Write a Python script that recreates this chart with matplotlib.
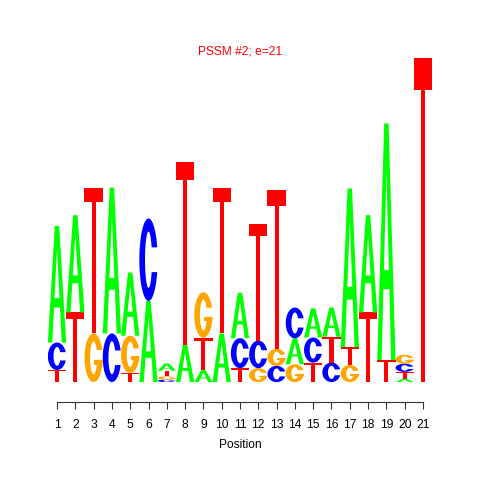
import matplotlib
matplotlib.use('Agg')
import numpy as np
import matplotlib.pyplot as plt
from matplotlib.path import Path
from matplotlib.patches import PathPatch

# ---- data (letter heights in bits per position) ----
positions = list(range(1, 22))
A = [0.72, 0.60, 0.00, 0.90, 0.39, 0.50, 0.045, 0.23, 0.074, 0.30, 0.28,
     0.00, 0.00, 0.16, 0.18, 0.18, 0.98, 0.60, 1.46, 0.020, 0.00]
C = [0.17, 0.00, 0.00, 0.30, 0.00, 0.51, 0.015, 0.00, 0.00, 0.00, 0.185,
     0.17, 0.10, 0.19, 0.155, 0.12, 0.00, 0.00, 0.00, 0.050, 0.00]
G = [0.00, 0.00, 0.30, 0.00, 0.23, 0.00, 0.020, 0.00, 0.28, 0.00, 0.00,
     0.086, 0.105, 0.11, 0.00, 0.00, 0.105, 0.00, 0.00, 0.055, 0.00]
T = [0.074, 0.43, 0.90, 0.00, 0.056, 0.00, 0.035, 1.13, 0.20, 0.90, 0.086,
     0.72, 0.98, 0.00, 0.12, 0.16, 0.11, 0.43, 0.136, 0.043, 2.00]
title = "PSSM #2; e=21"
xlabel = "Position"

colors = {'A': '#00FF00', 'C': '#0000FF', 'G': '#FFA500', 'T': '#FF0000'}


# ---- glyph outlines in a unit box (x 0..1, y 0..1) ----
def c_shape(ylo, yhi, rxi=0.19, ryi=0.34, n=120):
    t0 = np.arcsin((yhi - 0.5) / 0.5)
    t1 = 2 * np.pi + np.arcsin((ylo - 0.5) / 0.5)
    t = np.linspace(t0, t1, n)
    outer = np.c_[0.5 + 0.5 * np.cos(t), 0.5 + 0.5 * np.sin(t)]
    s0 = np.arcsin(np.clip((yhi - 0.5) / ryi, -1, 1))
    s1 = 2 * np.pi + np.arcsin(np.clip((ylo - 0.5) / ryi, -1, 1))
    s = np.linspace(s1, s0, n)
    inner = np.c_[0.5 + rxi * np.cos(s), 0.5 + ryi * np.sin(s)]
    return [np.vstack([outer, inner])]


def glyph_polys(ch):
    if ch == 'T':
        return [np.array([[0, 1], [1, 1], [1, 0.9], [0.61, 0.9], [0.61, 0],
                          [0.39, 0], [0.39, 0.9], [0, 0.9]])]
    if ch == 'A':
        k = 0.325
        outer = np.array([[0, 0], [0.38, 1], [0.62, 1], [1, 0], [0.76, 0],
                          [0.76 - k * 0.30, 0.30], [0.24 + k * 0.30, 0.30],
                          [0.24, 0]])
        hole = np.array([[0.24 + k * 0.38, 0.38], [0.76 - k * 0.38, 0.38],
                         [0.5, 0.80]])
        return [outer, hole]
    if ch == 'C':
        return c_shape(0.35, 0.65)
    if ch == 'G':
        bar = np.array([[0.52, 0.36], [0.98, 0.36], [0.98, 0.46],
                        [0.52, 0.46]])
        return c_shape(0.46, 0.66) + [bar]


def draw_letter(ax, ch, x, y, w, h, color):
    polys = glyph_polys(ch)
    if ch == 'A':
        verts, codes = [], []
        for pl in polys:
            pts = np.c_[x - w / 2 + pl[:, 0] * w, y + pl[:, 1] * h]
            verts += list(pts) + [pts[0]]
            codes += [Path.MOVETO] + [Path.LINETO] * (len(pts) - 1) + [Path.CLOSEPOLY]
        ax.add_patch(PathPatch(Path(verts, codes), fc=color, ec='none'))
    else:
        for pl in polys:
            pts = np.c_[x - w / 2 + pl[:, 0] * w, y + pl[:, 1] * h]
            ax.add_patch(plt.Polygon(pts, closed=True, fc=color, ec='none'))


fig = plt.figure(figsize=(4.8, 4.8), dpi=100)
ax = fig.add_axes([0.0997, 0.1625, 0.8006, 0.7504])
ax.set_xlim(0.5, 21.5)
ax.set_ylim(-0.123, 2.1)

for i, p in enumerate(positions):
    heights = {'A': A[i], 'C': C[i], 'G': G[i], 'T': T[i]}
    y = 0.0
    for ch, h in sorted(heights.items(), key=lambda kv: kv[1]):
        if h <= 0:
            continue
        draw_letter(ax, ch, p, y, 1.0, h, colors[ch])
        y += h

for s in ['left', 'right', 'top']:
    ax.spines[s].set_visible(False)
ax.spines['bottom'].set_bounds(1, 21)
ax.spines['bottom'].set_color('#333333')
ax.set_xticks(positions)
ax.set_xticklabels([str(p) for p in positions], fontsize=8.64,
                   family='Liberation Sans')
ax.tick_params(axis='x', length=5, pad=7, color='#333333')
ax.set_yticks([])

fig.text(0.5, 1 - 52 / 480, title, color='red', ha='center', va='center',
         fontsize=8.64, family='Liberation Sans')
fig.text(0.5, 1 - 445 / 480, xlabel, color='black', ha='center', va='center',
         fontsize=8.64, family='Liberation Sans')

fig.savefig('out.png', dpi=100)
